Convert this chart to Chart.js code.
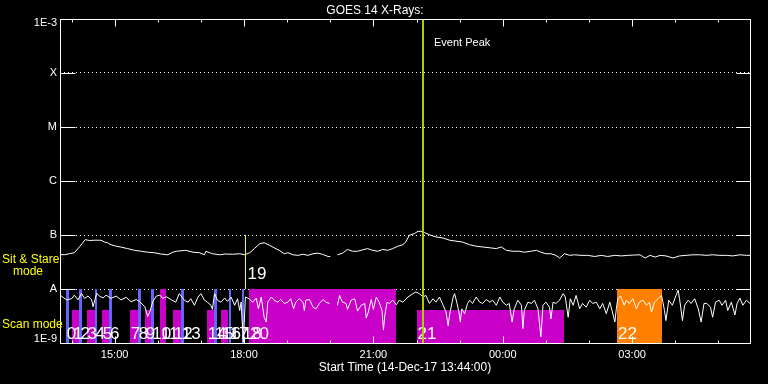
<!DOCTYPE html>
<html>
<head>
<meta charset="utf-8">
<script src="https://cdn.jsdelivr.net/npm/chart.js@4.4.1/dist/chart.umd.min.js"></script>
<style>
  html, body { margin: 0; padding: 0; background: #000; }
  canvas { display: block; }
</style>
</head>
<body>
<canvas id="goesChart" width="768" height="384"></canvas>
<script>
// ---- data ----
const titleText = 'GOES 14 X-Rays:';
const startLabel = 'Start Time (14-Dec-17 13:44:00)';

// x axis in minutes after 13:44 UT
const timeTicks = [76, 256, 436, 616, 796];
const timeTickLabels = ['15:00', '18:00', '21:00', '00:00', '03:00'];
const hourTicks = [16, 76, 136, 196, 256, 316, 376, 436, 496, 556, 616, 676, 736, 796, 856, 916];

// y axis levels (W/m^2)
const levelValues = [1e-9, 1e-8, 1e-7, 1e-6, 1e-5, 1e-4, 1e-3];
const levelLabels = ['1E-9', 'A', 'B', 'C', 'M', 'X', '1E-3'];

// 1-8 A channel, flux in units of 1e-9 W/m^2
const longTime = [
  0, 6, 13, 20, 27, 31, 35, 41, 48, 52,
  57, 62, 66, 71, 77, 84, 94, 104, 113, 122,
  131, 140, 150, 157, 162, 175, 185, 194, 201, 203,
  212, 222, 230, 240, 250, 257, 264, 271, 278, 284,
  292, 299, 305, 312, 317, 324, 331, 338, 345, 352,
  359, 365, 373, 376, 380, 386, 393, 400, 407, 414,
  421, 428, 435, 442, 449, 456, 463, 470, 477, 481,
  486, 493, 498, 502, 507, 514, 523, 533, 542, 551,
  560, 570, 579, 588, 598, 607, 614, 621, 630, 639,
  646, 655, 663, 669, 676, 683, 690, 695, 702, 709,
  716, 725, 734, 744, 753, 762, 772, 781, 790, 798,
  807, 814, 821, 828, 835, 843, 853, 862, 871, 881,
  890, 899, 908, 918, 927, 936, 946, 955, 960
];
const longFlux = [
  43.5, 43, 45, 47, 60, 70, 82, 79, 80, 80,
  80, 74, 72, 66, 62.5, 60, 56, 52, 50, 48,
  47, 44.5, 43, 48, 50, 52, 48, 47, 43, 50,
  45, 43, 44.5, 44, 45, 43, 47, 57, 69, 72,
  64, 57, 52, 45, 47, 43, 42, 44, 42, 45,
  46, 44, 40, 40, null, 43, 46, 54, 50, 50,
  53, 56, 52, 50, 54, 52, 56, 62, 66, 74,
  99, 106, 117, 117, 111, 101, 92, 88, 80, 77,
  74, 66, 62, 60, 58, 56, 60, 52, 50, 50,
  48, 50, 52, 48, 45, 45, 42, 37.5, 45, 42,
  43, 42, 42, 40, 42, 40, 42, 41, 42, 42.5,
  43, 37.5, 42, 39, 42, 41, 37.5, 41, 42, 43,
  43, 42, 43, 42, 42, 41, 43, 42, 42
];

// 0.5-4 A channel, flux in units of 1e-9 W/m^2
const shortTime = [
  0, 9, 16, 20, 25, 30, 34, 39, 44, 46,
  51, 55, 60, 64, 71, 78, 85, 92, 99, 106,
  111, 118, 122, 125, 129, 134, 139, 143, 148, 155,
  161, 166, 173, 178, 182, 187, 192, 196, 201, 205,
  210, 212, 215, 219, 224, 229, 233, 238, 243, 247,
  250, 252, 255, 258, 263, 268, 273, 276, 280, 284,
  287, 289, 294, 298, 303, 307, 312, 317, 321, 325,
  328, 333, 338, 340, 342, 347, 352, 356, 361, 366,
  370, 375, 380, 386, 389, 393, 398, 400, 405, 410,
  414, 419, 424, 426, 429, 433, 436, 440, 444, 448,
  450, 452, 455, 458, 463, 468, 472, 477, 484, 491,
  495, 500, 505, 509, 514, 519, 523, 528, 533, 537,
  540, 542, 547, 549, 552, 555, 557, 559, 563, 567,
  570, 574, 579, 584, 588, 593, 598, 602, 607, 612,
  616, 621, 625, 629, 632, 637, 642, 644, 646, 651,
  656, 660, 665, 669, 672, 676, 681, 683, 686, 690,
  695, 700, 703, 707, 710, 714, 718, 723, 727, 732,
  737, 741, 746, 751, 755, 760, 765, 768, 772, 774,
  776, 780, 785, 788, 792, 797, 802, 806, 811, 816,
  820, 823, 827, 832, 837, 841, 843, 847, 852, 857,
  860, 862, 866, 869, 874, 878, 883, 888, 892, 896,
  900, 905, 908, 912, 917, 921, 926, 929, 934, 939,
  942, 946, 950, 955, 960
];
const shortFlux = [
  7.7, 6.3, 6.6, 7.7, 6.3, 8.3, 6.7, 7.4, 6.3, 4.7,
  8.3, 7.4, 6.8, 7.7, 6.7, 7.4, 6.3, 7.0, 5.8, 6.4,
  5.8, 4.7, 3.1, 3.8, 5.8, 7.4, 7.7, 6.7, 7.2, 6.3,
  5.7, 8.2, 6.2, 5.7, 6.6, 5.0, 7.1, 8.2, 6.2, 5.7,
  5.0, 4.2, 8.2, 6.2, 5.7, 6.8, 5.9, 7.1, 5.0, 6.6,
  4.0, 5.7, 1.04, 7.1, 6.6, 5.7, 6.8, 4.3, 7.1, 3.0,
  2.45, 5.7, 7.1, 6.2, 5.7, 6.4, 5.4, 5.7, 6.6, 4.3,
  5.7, 6.6, 5.7, 4.0, 6.2, 6.4, 4.6, 4.3, 5.4, 6.4,
  5.7, 5.4, null, 5.0, 7.6, 5.7, 5.4, 4.2, 6.2, 6.6,
  3.9, 5.0, 5.4, 2.9, 3.75, 6.4, 4.2, 7.1, 5.7, 4.0,
  1.74, 3.3, 5.7, 5.4, 6.2, 5.1, 6.2, 5.7, 7.1, 8.2,
  8.8, 8.2, 7.1, 7.6, 5.4, 6.6, 5.7, 7.1, 5.0, 3.75,
  2.1, 3.3, 7.1, 8.2, 5.7, 3.75, 2.45, 4.3, 3.5, 5.4,
  6.2, 5.4, 7.1, 5.7, 5.4, 6.4, 5.7, 6.2, 5.0, 7.1,
  5.7, 5.0, 5.4, 2.45, 4.3, 6.2, 5.0, 1.85, 4.0, 5.7,
  5.4, 6.2, 4.3, 1.3, 5.0, 5.7, 4.6, 2.8, 5.7, 5.4,
  6.2, 8.2, 7.1, 3.0, 6.6, 5.0, 7.6, 4.3, 5.4, 4.6,
  6.2, 5.4, 5.7, 4.3, 5.4, 3.5, 5.7, 4.0, 2.45, 4.3,
  6.6, 7.4, 5.0, 6.2, 5.4, 6.6, 4.3, 5.7, 6.2, 5.0,
  5.7, 3.75, 5.7, 6.6, 7.6, 4.0, 2.6, 6.2, 5.0, 7.6,
  9.5, 6.6, 2.6, 5.0, 6.2, 5.4, 6.6, 4.3, 2.45, 5.4,
  5.4, 4.6, 3.0, 5.7, 6.2, 5.0, 6.2, 4.0, 5.7, 3.3,
  5.4, 6.8, 5.0, 6.2, 5.4
];

// IRIS observations (minutes after start)
const obsIds   = [0, 1, 2, 3, 4, 5, 6, 7, 8, 9, 10, 11, 12, 13, 14, 15, 16, 17, 18, 19, 20, 21, 22];
const obsStart = [8, 17, 27, 37, 48, 58, 68, 97, 108, 118, 127, 139, 157, 168, 204, 214, 224, 235, 253, 258, 263, 496, 775];
const obsEnd   = [12, 27, 31, 48, 51, 68, 72, 108, 112, 127, 131, 148, 168, 172, 214, 219, 234, 238, 256, 258, 468, 701, 838];
const obsKind  = ['raster', 'scan', 'raster', 'scan', 'raster', 'scan', 'raster', 'scan', 'raster', 'scan', 'raster',
                  'scanFull', 'scan', 'raster', 'scan', 'raster', 'scan', 'raster', 'raster', 'stare', 'scanFull', 'scan', 'other'];

const eventPeak = 503;

// ---- drawing ----
const FONT = '"Liberation Sans", Arial, sans-serif';
const kindStyle = {
  raster:   { color: '#6464ff', top: 1e-8 },
  scan:     { color: '#c800c8', top: 4e-9 },
  scanFull: { color: '#c800c8', top: 1e-8 },
  other:    { color: '#ff8000', top: 1e-8 },
  stare:    { color: '#ffff00', top: 1e-7, bottom: 1e-8 }
};

const toPoints = (times, flux) => times.map((t, i) => ({ x: t, y: flux[i] === null ? null : flux[i] * 1e-9 }));

const goesOverlay = {
  id: 'goesOverlay',
  beforeDatasetsDraw(chart) {
    const { ctx, scales: { x, y } } = chart;
    const yBase = Math.round(y.getPixelForValue(levelValues[0])) + 1;
    ctx.save();
    obsIds.forEach((id, i) => {
      const st = kindStyle[obsKind[i]];
      const x0 = Math.round(x.getPixelForValue(obsStart[i]));
      const x1 = Math.round(x.getPixelForValue(obsEnd[i]));
      if (obsKind[i] === 'stare') {
        ctx.strokeStyle = st.color;
        ctx.lineWidth = 1;
        ctx.beginPath();
        ctx.moveTo(x0 + 0.5, y.getPixelForValue(st.bottom));
        ctx.lineTo(x0 + 0.5, y.getPixelForValue(st.top));
        ctx.stroke();
      } else {
        const yTop = Math.round(y.getPixelForValue(st.top));
        ctx.fillStyle = st.color;
        ctx.fillRect(x0, yTop, Math.max(x1 - x0, 2), yBase - yTop);
      }
    });
    ctx.restore();
  },
  afterDatasetsDraw(chart) {
    const { ctx, chartArea: a, scales: { x, y } } = chart;
    const L = Math.round(a.left) + 0.5, R = Math.round(a.right) + 0.5;
    const T = Math.round(a.top) + 0.5, B = Math.round(a.bottom) + 0.5;
    const yA = y.getPixelForValue(1e-8);
    ctx.save();

    // observation numbers
    ctx.fillStyle = '#fff';
    ctx.font = '17px ' + FONT;
    ctx.textAlign = 'left';
    ctx.textBaseline = 'alphabetic';
    obsIds.forEach((id, i) => {
      const px = x.getPixelForValue(obsStart[i]);
      if (obsKind[i] === 'stare') ctx.fillText(String(id), px + 2, yA - 10);
      else ctx.fillText(String(id), px + 1, a.bottom - 4);
    });

    // event peak
    const ex = Math.round(x.getPixelForValue(eventPeak)) + 1;
    ctx.strokeStyle = '#a8d000';
    ctx.lineWidth = 2;
    ctx.beginPath();
    ctx.moveTo(ex, a.top);
    ctx.lineTo(ex, a.bottom);
    ctx.stroke();
    ctx.fillStyle = '#fff';
    ctx.font = '11px ' + FONT;
    ctx.textBaseline = 'middle';
    ctx.fillText('Event Peak', ex + 11, a.top + 24);

    // frame and ticks
    ctx.strokeStyle = '#fff';
    ctx.lineWidth = 1;
    ctx.strokeRect(L, T, R - L, B - T);
    ctx.beginPath();
    hourTicks.forEach(m => {
      const px = Math.round(x.getPixelForValue(m)) + 0.5;
      const len = timeTicks.includes(m) ? 7 : 3;
      ctx.moveTo(px, T); ctx.lineTo(px, T + len);
      ctx.moveTo(px, B); ctx.lineTo(px, B - len);
    });
    levelValues.forEach(v => {
      const py = Math.round(y.getPixelForValue(v)) + 0.5;
      ctx.moveTo(L, py); ctx.lineTo(L + 15, py);
      ctx.moveTo(R, py); ctx.lineTo(R - 14, py);
    });
    ctx.stroke();

    // y labels
    ctx.textAlign = 'right';
    ctx.textBaseline = 'middle';
    levelValues.forEach((v, i) => {
      let py = y.getPixelForValue(v);
      if (i === 0) py -= 4;
      if (i === levelValues.length - 1) py += 4;
      ctx.fillText(levelLabels[i], a.left - 3, py);
    });

    // mode captions
    ctx.fillStyle = '#ffff00';
    ctx.font = '12px ' + FONT;
    ctx.textAlign = 'left';
    ctx.fillText('Sit & Stare', 2, yA - 29);
    ctx.fillText('mode', 13, yA - 17);
    ctx.fillText('Scan mode', 2, yA + 36);
    ctx.restore();
  }
};

new Chart(document.getElementById('goesChart'), {
  type: 'line',
  data: {
    datasets: [
      { data: toPoints(longTime, longFlux), borderColor: '#fff', borderWidth: 1, pointRadius: 0, spanGaps: false },
      { data: toPoints(shortTime, shortFlux), borderColor: '#fff', borderWidth: 1, pointRadius: 0, spanGaps: false }
    ]
  },
  options: {
    responsive: false,
    animation: false,
    devicePixelRatio: 1,
    layout: { padding: { left: 0, right: 18, top: 0, bottom: 0 } },
    plugins: {
      legend: { display: false },
      tooltip: { enabled: false },
      title: {
        display: true,
        text: titleText,
        color: '#fff',
        font: { family: FONT, size: 12, weight: 'normal' },
        padding: { top: 3, bottom: 1.6 }
      }
    },
    scales: {
      x: {
        type: 'linear',
        min: 0,
        max: 960,
        afterBuildTicks: s => { s.ticks = timeTicks.map(v => ({ value: v })); },
        afterFit: s => { s.height = 41; },
        ticks: {
          color: '#fff',
          font: { family: FONT, size: 11 },
          padding: 5,
          autoSkip: false,
          maxRotation: 0,
          callback: (v, i) => timeTickLabels[i]
        },
        grid: { display: false, drawTicks: false },
        border: { display: false },
        title: {
          display: true,
          text: startLabel,
          color: '#fff',
          font: { family: FONT, size: 12 },
          padding: { top: 0, bottom: 9 }
        }
      },
      y: {
        type: 'logarithmic',
        min: 1e-9,
        max: 1e-3,
        afterBuildTicks: s => { s.ticks = levelValues.map(v => ({ value: v })); },
        afterFit: s => { s.width = 60; },
        ticks: { display: false },
        grid: {
          drawTicks: false,
          lineWidth: 1,
          color: c => (c.tick && c.tick.value > 1e-9 && c.tick.value < 1e-3) ? '#fff' : 'rgba(0,0,0,0)'
        },
        border: { display: false, dash: [1, 3] }
      }
    }
  },
  plugins: [goesOverlay]
});
</script>
</body>
</html>
